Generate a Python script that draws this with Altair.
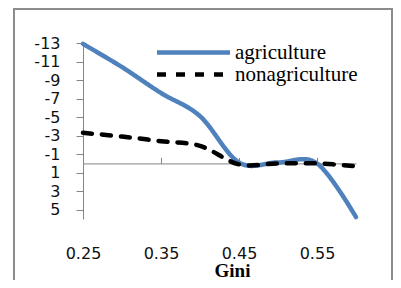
import altair as alt
import pandas as pd

gini = [0.25, 0.30, 0.35, 0.40, 0.45, 0.50, 0.55, 0.60]
agriculture = [-12.9, -10.4, -7.6, -5.1, -0.1, -0.1, 0.0, 5.8]
nonagriculture = [-3.3, -2.9, -2.4, -1.9, 0.1, 0.0, 0.0, 0.3]
series = ["agriculture", "nonagriculture"]
y_ticks = [-13, -11, -9, -7, -5, -3, -1, 1, 3, 5]
x_ticks = [0.25, 0.35, 0.45, 0.55]
y_domain = [-13, 6]
x_domain = [0.25, 0.6]

rows = []
for g, a, n in zip(gini, agriculture, nonagriculture):
    rows.append({"gini": g, "series": series[0], "value": a})
    rows.append({"gini": g, "series": series[1], "value": n})
df = pd.DataFrame(rows)

W, H = 273, 176
zero_offset = -(0 - y_domain[0]) / (y_domain[1] - y_domain[0]) * H

x_scale = alt.Scale(domain=x_domain, nice=False, zero=False)
y_scale = alt.Scale(domain=y_domain, reverse=True, nice=False, zero=False)

legend = alt.Legend(
    title=None, orient="none", legendX=99, legendY=-2,
    symbolType="M-4,0H4", symbolSize=333, symbolStrokeWidth=4.5,
    symbolFillColor="transparent",
    labelFont="Liberation Serif", labelFontSize=21, labelColor="#000000",
    labelOffset=30, padding=0, rowPadding=0,
)

border = alt.Chart(pd.DataFrame({"a": [0]})).mark_rect(
    fillOpacity=0, stroke="#8c8c8c", strokeWidth=2
).encode(x=alt.value(-69), x2=alt.value(309), y=alt.value(-34), y2=alt.value(300))

lines = alt.Chart(df).mark_line(
    interpolate="cardinal", strokeWidth=4.5, strokeCap="round"
).encode(
    x=alt.X("gini:Q", scale=x_scale, axis=alt.Axis(
        orient="top", offset=zero_offset, values=x_ticks, labels=False, title=None,
        domainColor="#868686", tickColor="#868686", tickSize=6, grid=False)),
    y=alt.Y("value:Q", scale=y_scale, axis=alt.Axis(
        values=y_ticks, title=None, tickSize=7, labelPadding=16, grid=False,
        domainColor="#868686", tickColor="#868686", labelExpr="'' + datum.value",
        labelFont="DejaVu Sans", labelFontSize=16, labelColor="#111111")),
    color=alt.Color("series:N", scale=alt.Scale(domain=series, range=["#4F81BD", "#000000"]), legend=legend),
    strokeDash=alt.StrokeDash("series:N", scale=alt.Scale(domain=series, range=[[1, 0], [9, 10]]), legend=legend),
)

bottom = alt.Chart(df).mark_line(opacity=0).encode(
    x=alt.X("gini:Q", scale=x_scale, axis=alt.Axis(
        orient="bottom", values=x_ticks, format=".2f", ticks=False, tickSize=0, domain=False, grid=False,
        labelFlush=False, labelPadding=26, labelFont="DejaVu Sans", labelFontSize=16, labelColor="#111111",
        title="Gini", titleFont="Liberation Serif", titleFontWeight="bold", titleFontSize=19,
        titleColor="#000000", titleX=149, titleY=57, titleBaseline="alphabetic", titleAlign="center")),
    y=alt.Y("value:Q", scale=y_scale, axis=None),
)

chart = alt.layer(border, lines, bottom).resolve_axis(x="independent", y="independent").properties(
    width=W, height=H,
    autosize=alt.AutoSizeParams(type="none"),
    padding={"left": 75, "top": 35, "right": 37, "bottom": 61},
    background="#ffffff",
).configure_view(stroke=None)

chart.save("out.html", embed_options={"renderer": "svg", "actions": False})
